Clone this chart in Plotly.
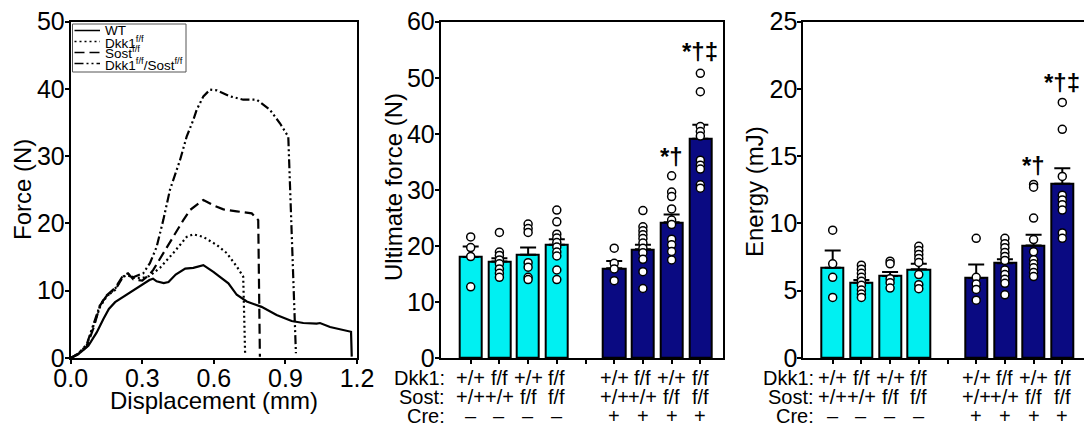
import plotly.graph_objects as go

W, H = 1084, 428
FONT = "Liberation Sans, Arial, Helvetica, sans-serif"

# ---------------- Panel 1: force-displacement curves ----------------
wt_x = [0, 0.04, 0.074, 0.109, 0.137, 0.16, 0.186, 0.234, 0.29, 0.33, 0.345, 0.36, 0.39, 0.41, 0.44, 0.48,
        0.514, 0.556, 0.598, 0.626, 0.661, 0.696, 0.738, 0.80, 0.863, 0.926, 0.975, 1.031, 1.045, 1.087,
        1.143, 1.175, 1.178]
wt_y = [0, 0.8, 1.8, 3.8, 5.8, 7.3, 8.3, 9.4, 10.6, 11.6, 11.8, 11.4, 11.15, 11.3, 12.4, 13.3,
        13.4, 13.8, 12.8, 12.1, 11.1, 9.4, 8.4, 7.6, 6.4, 5.5, 5.2, 5.1, 5.2, 4.6,
        4.1, 3.9, 0.2]

dkk_x = [0, 0.03, 0.067, 0.095, 0.123, 0.15, 0.186, 0.22, 0.24, 0.262, 0.30, 0.33, 0.374, 0.43,
         0.486, 0.514, 0.556, 0.612, 0.654, 0.696, 0.723, 0.731]
dkk_y = [0, 0.6, 1.9, 4.6, 7.6, 9.1, 10.3, 12.1, 12.3, 11.9, 11.9, 12.2, 13.4, 15.6,
         18.0, 18.4, 18.0, 16.8, 15.6, 13.6, 12.1, 0.7]

sost_x = [0, 0.03, 0.067, 0.095, 0.123, 0.15, 0.186, 0.22, 0.24, 0.262, 0.30, 0.33, 0.346, 0.388,
          0.43, 0.472, 0.50, 0.556, 0.598, 0.64, 0.696, 0.759, 0.786, 0.793]
sost_y = [0, 0.5, 1.7, 4.4, 7.8, 9.3, 10.4, 12.3, 12.6, 11.7, 11.5, 12.4, 13.1, 15.6,
          18.0, 20.5, 22.0, 23.5, 22.7, 22.1, 21.8, 21.5, 20.5, 0.2]

dko_x = [0, 0.03, 0.067, 0.095, 0.123, 0.15, 0.186, 0.22, 0.24, 0.262, 0.304, 0.332, 0.36, 0.388,
         0.416, 0.458, 0.486, 0.514, 0.528, 0.556, 0.584, 0.612, 0.668, 0.723, 0.78, 0.835, 0.877,
         0.912, 0.919, 0.933, 0.944]
dko_y = [0, 0.6, 2.0, 4.8, 7.9, 9.2, 10.1, 12.1, 12.5, 12.0, 12.6, 14.1, 16.5, 20.5,
         25.0, 29.4, 32.9, 35.4, 36.9, 38.9, 39.9, 39.8, 38.9, 38.4, 38.4, 36.9, 34.9,
         32.9, 25.5, 10.6, 0.7]

curve_names = ["WT", "Dkk1<sup>f/f</sup>", "Sost<sup>f/f</sup>", "Dkk1<sup>f/f</sup>/Sost<sup>f/f</sup>"]

# ---------------- Bar panels ----------------
dkk1_labels = ["+/+", "f/f", "+/+", "f/f", "+/+", "f/f", "+/+", "f/f"]
sost_labels = ["+/+", "+/+", "f/f", "f/f", "+/+", "+/+", "f/f", "f/f"]
cre_labels = ["–", "–", "–", "–", "+", "+", "+", "+"]
slots = [0, 1, 2, 3, 5, 6, 7, 8]
gap_ticks = [0, 1, 2, 3, 4, 5, 6, 7, 8]

force_mean = [18.0, 17.2, 18.4, 20.2, 16.0, 19.4, 24.2, 39.1]
force_sem = [1.9, 0.6, 1.3, 1.0, 1.3, 0.8, 1.4, 2.5]
force_pts = [
    [21.6, 19.7, 18.1, 12.7],
    [22.4, 18.9, 18.3, 17.5, 16.8, 15.9, 15.1, 14.4],
    [23.9, 23.1, 22.4, 17.0, 16.2, 14.4, 14.0],
    [26.4, 24.3, 22.1, 21.4, 20.6, 19.8, 18.9, 18.2, 15.7, 14.0],
    [19.6, 16.9, 15.9, 13.8],
    [26.3, 23.4, 22.7, 22.0, 21.3, 20.5, 19.6, 18.8, 17.6, 15.4, 12.4],
    [32.5, 29.6, 28.8, 26.6, 24.6, 23.8, 21.2, 20.2, 19.0, 17.5],
    [50.8, 47.5, 41.3, 40.4, 39.6, 35.3, 34.4, 33.7, 30.9, 30.3],
]
force_sig = {7: ("*†", 36.0), 8: ("*†‡", 54.6)}

energy_mean = [6.7, 5.6, 6.1, 6.6, 5.95, 7.05, 8.37, 12.95]
energy_sem = [1.3, 0.2, 0.3, 0.4, 1.0, 0.3, 0.8, 1.15]
energy_pts = [
    [9.5, 7.0, 6.0, 4.5],
    [6.9, 6.6, 6.3, 6.0, 5.7, 5.4, 5.05, 4.75, 4.5],
    [7.2, 7.0, 5.9, 5.6, 5.2],
    [8.3, 8.0, 7.7, 7.4, 7.1, 6.2, 5.45, 5.15],
    [8.9, 6.0, 5.5, 5.1, 4.3],
    [8.9, 8.5, 8.2, 7.85, 7.55, 7.25, 6.55, 6.2, 5.85, 5.55, 4.7],
    [12.9, 12.7, 10.4, 8.8, 7.9, 7.3, 7.0, 6.7, 6.35, 6.05],
    [19.0, 17.0, 13.5, 12.1, 11.75, 11.4, 11.0, 9.3, 8.9],
]
energy_sig = {7: ("*†", 14.3), 8: ("*†‡", 20.5)}

CYAN = "#00F0F2"
NAVY = "#0A0A82"
bar_colors = [CYAN] * 4 + [NAVY] * 4

fig = go.Figure()

# line curves
dashes = ["solid", "2px,3px", "10px,5px", "9px,3px,2px,3px,2px,3px"]
for nm, xs, ys, d in zip(curve_names, [wt_x, dkk_x, sost_x, dko_x], [wt_y, dkk_y, sost_y, dko_y], dashes):
    fig.add_trace(go.Scatter(x=xs, y=ys, mode="lines", name=nm,
                             line=dict(color="black", width=2.2, dash=d),
                             xaxis="x", yaxis="y", showlegend=False))

def add_bar_panel(xa, ya, means, sems, pts):
    fig.add_trace(go.Bar(x=slots, y=means, width=0.77, xaxis=xa, yaxis=ya,
                         marker=dict(color=bar_colors, line=dict(color="black", width=2)),
                         error_y=dict(type="data", array=sems, arrayminus=[0] * len(sems),
                                      symmetric=False, color="black", thickness=2, width=8),
                         showlegend=False))
    px, py = [], []
    for s, vals in zip(slots, pts):
        px += [s] * len(vals)
        py += vals
    fig.add_trace(go.Scatter(x=px, y=py, mode="markers", xaxis=xa, yaxis=ya, showlegend=False,
                             marker=dict(size=8, color="white", line=dict(color="black", width=1.5))))

add_bar_panel("x2", "y2", force_mean, force_sem, force_pts)
add_bar_panel("x3", "y3", energy_mean, energy_sem, energy_pts)

ytop, ybot = 21.7, 358.0
ydom = [1 - ybot / H, 1 - ytop / H]

axis_common = dict(showline=True, linecolor="black", linewidth=2, ticks="outside", ticklen=4,
                   tickwidth=2, tickcolor="black", showgrid=False, zeroline=False, automargin=False,
                   tickfont=dict(family=FONT, size=25, color="black"))

fig.update_layout(
    width=W, height=H, margin=dict(l=0, r=0, t=0, b=0, pad=0, autoexpand=False),
    paper_bgcolor="white", plot_bgcolor="white",
    font=dict(family=FONT, color="black"),
    bargap=0, showlegend=False,
    xaxis=dict(domain=[70.7 / W, 357 / W], range=[0, 1.2], tickvals=[0, 0.3, 0.6, 0.9, 1.2],
               ticktext=["0.0", "0.3", "0.6", "0.9", "1.2"], anchor="y", mirror=True,
               ticklabelstandoff=-7, **axis_common),
    yaxis=dict(domain=ydom, range=[0, 50], dtick=10, anchor="x", mirror=True,
               ticklabelstandoff=-5, **axis_common),
    xaxis2=dict(domain=[440.7 / W, 723.3 / W], range=[-1.045, 8.8], tickvals=gap_ticks,
                showticklabels=False, anchor="y2", mirror=True, **axis_common),
    yaxis2=dict(domain=ydom, range=[0, 60], dtick=10, anchor="x2", mirror=True,
                ticklabelstandoff=-5, **axis_common),
    xaxis3=dict(domain=[803.3 / W, 1.0], range=[-1.024, 8.756], tickvals=gap_ticks,
                showticklabels=False, anchor="y3", mirror=True, **axis_common),
    yaxis3=dict(domain=ydom, range=[0, 25], dtick=5, anchor="x3", mirror=False,
                ticklabelstandoff=-5, **axis_common),
)

ann = []
shapes = []

def P(xpx, ypx):
    return xpx / W, 1 - ypx / H

# axis titles
for txt, xpx, ypx, ang in [("Force (N)", 22, 190, -90), ("Displacement (mm)", 213.8, 400, 0),
                           ("Ultimate force (N)", 393, 187, -90), ("Energy (mJ)", 754, 192, -90)]:
    xx, yy = P(xpx, ypx)
    ann.append(dict(text=txt, x=xx, y=yy, xref="paper", yref="paper", textangle=ang,
                    xanchor="center", yanchor="middle", showarrow=False, font=dict(size=24)))

# legend (drawn inside the curve panel)
lx0, lx1, ly0, ly1 = 72.5, 186, 24, 72
x0, y0 = P(lx0, ly0)
x1, y1 = P(lx1, ly1)
shapes.append(dict(type="rect", xref="paper", yref="paper", x0=x0, x1=x1, y0=y1, y1=y0,
                   line=dict(color="#555", width=1), fillcolor="white", layer="above"))
item_y = [30.5, 41.5, 52.5, 63.5]
for nm, d, iy in zip(curve_names, dashes, item_y):
    sx0, sy = P(74.5, iy)
    sx1, _ = P(100, iy)
    shapes.append(dict(type="line", xref="paper", yref="paper", x0=sx0, x1=sx1, y0=sy, y1=sy,
                       line=dict(color="black", width=1.5, dash=d), layer="above"))
    tx, ty = P(102.5, iy)
    ann.append(dict(text=nm, x=tx, y=ty, xref="paper", yref="paper", xanchor="left",
                    yanchor="middle", showarrow=False, font=dict(size=13.5)))

rows = [("Dkk1:", dkk1_labels, 378.3), ("Sost:", sost_labels, 397.0), ("Cre:", cre_labels, 415.7)]
for xa, label_right in [("x2", 447.0), ("x3", 815.5)]:
    for head, labels, ypx in rows:
        hx, hy = P(label_right, ypx)
        ann.append(dict(text=head, x=hx, y=hy, xref="paper", yref="paper",
                        xanchor="right", yanchor="middle", showarrow=False, font=dict(size=20)))
        for s, t in zip(slots, labels):
            ann.append(dict(text=t, x=s, y=hy, xref=xa, yref="paper",
                            xanchor="center", yanchor="middle", showarrow=False, font=dict(size=20)))

for xa, ya, sig in [("x2", "y2", force_sig), ("x3", "y3", energy_sig)]:
    for s, (t, v) in sig.items():
        ann.append(dict(text="<b>" + t + "</b>", x=s, y=v, xref=xa, yref=ya, showarrow=False,
                        xanchor="center", yanchor="middle", font=dict(size=24)))

fig.update_layout(annotations=ann, shapes=shapes)
fig.write_html("out.html", config={"displayModeBar": False},
               post_script="document.body.style.margin='0px';document.body.style.overflow='hidden';")
